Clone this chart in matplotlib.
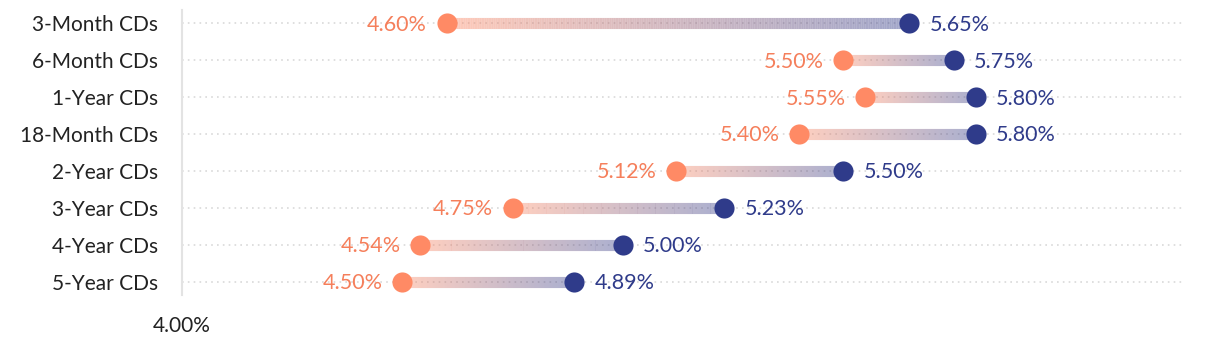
import numpy as np
import matplotlib
matplotlib.use("Agg")
import matplotlib.pyplot as plt
from matplotlib.collections import LineCollection
from matplotlib.colors import to_rgba

categories = ["3-Month CDs", "6-Month CDs", "1-Year CDs", "18-Month CDs",
              "2-Year CDs", "3-Year CDs", "4-Year CDs", "5-Year CDs"]
low_rates = [4.60, 5.50, 5.55, 5.40, 5.12, 4.75, 4.54, 4.50]
high_rates = [5.65, 5.75, 5.80, 5.80, 5.50, 5.23, 5.00, 4.89]
x_ticks = [4.00]
x_tick_labels = ["4.00%"]

ORANGE = "#FF8A65"
ORANGE_TXT = "#F57F5B"
NAVY = "#2F3B8A"
FONT = ["Lato", "DejaVu Sans"]
plt.rcParams["font.family"] = FONT

fig = plt.figure(figsize=(12.2, 3.46), dpi=100)
ax = fig.add_axes([182/1220, 1 - 295/346, (1185-182)/1220, 285/346])

ys = np.arange(len(categories))
c0 = np.array(to_rgba(ORANGE, 0.45))
c1 = np.array(to_rgba(NAVY, 0.45))

for y in ys:
    ax.axhline(y, color="#d9d9d9", lw=1.2, ls=(0, (1, 2.5)), zorder=0)

for y, lo, hi in zip(ys, low_rates, high_rates):
    n = 200
    xs = np.linspace(lo, hi, n + 1)
    segs = [[(xs[i], y), (xs[i+1], y)] for i in range(n)]
    t = np.linspace(0, 1, n)[:, None]
    cols = c0 * (1 - t) + c1 * t
    lc = LineCollection(segs, colors=cols, linewidths=8, capstyle="butt", zorder=2)
    ax.add_collection(lc)
    ax.scatter([lo], [y], s=210, color=ORANGE, zorder=3, linewidths=0)
    ax.scatter([hi], [y], s=210, color=NAVY, zorder=3, linewidths=0)
    ax.annotate(f"{lo:.2f}%", (lo, y), xytext=(-14, -1), textcoords="offset points",
                ha="right", va="center", color=ORANGE_TXT, fontsize=15.5)
    ax.annotate(f"{hi:.2f}%", (hi, y), xytext=(14.5, -1), textcoords="offset points",
                ha="left", va="center", color=NAVY, fontsize=15.5)

ax.set_xlim(4.0, 6.275)
ax.set_ylim(len(categories) - 1 + 0.36, -0.36)
ax.set_yticks(ys)
ax.set_yticklabels(categories, fontsize=15, color="#222222")
ax.set_xticks(x_ticks)
ax.set_xticklabels(x_tick_labels, fontsize=15, color="#222222")
ax.tick_params(axis="y", length=0, pad=17)
ax.tick_params(axis="x", length=0, pad=15)
for s in ["top", "right", "bottom"]:
    ax.spines[s].set_visible(False)
ax.spines["left"].set_color("#e3e3e3")
ax.spines["left"].set_linewidth(1.5)

fig.savefig("out.png", dpi=100)
